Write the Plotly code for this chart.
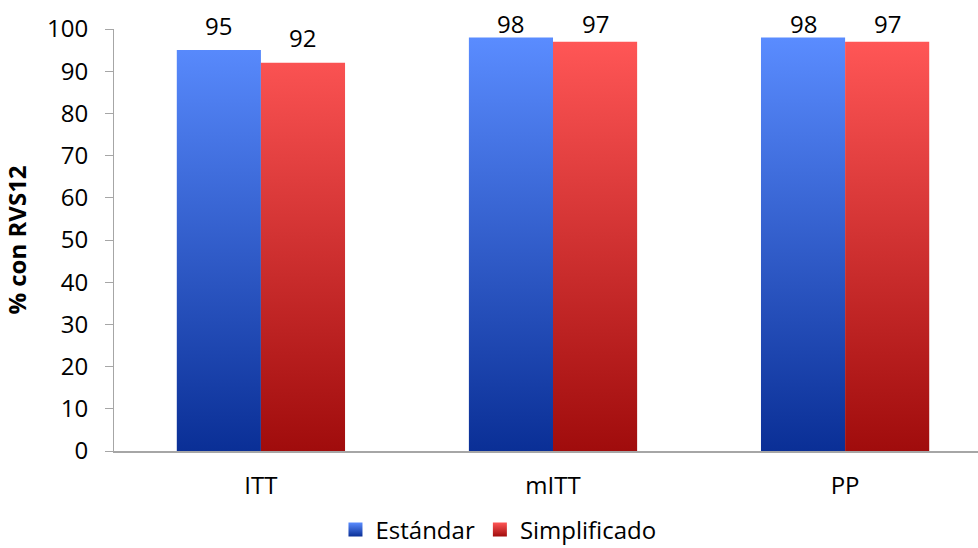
import plotly.graph_objects as go

categories = ["ITT", "mITT", "PP"]
estandar = [95, 98, 98]
simplificado = [92, 97, 97]
series_names = ["Estándar", "Simplificado"]
y_ticks = list(range(0, 101, 10))

W, H = 978, 548
M_L, M_R, M_T, M_B = 114, 0, 29, 97
Y_MAX = 100
PX_PER_UNIT = (H - M_T - M_B) / Y_MAX

BAR_W = 0.288
FS = 24
LABEL_GAP_PX = 25    # label centre above bar top
LABEL_MAX = 101.3    # labels clamped near top of the plot
colors = {
    "Estándar": ("#0a2f96", "#5a8cff"),
    "Simplificado": ("#a00c0c", "#ff5656"),
}

fig = go.Figure()

def bar_polys(values, offset):
    xs, ys = [], []
    for i, v in enumerate(values):
        x0 = i + offset
        x1 = x0 + BAR_W
        xs += [x0, x1, x1, x0, x0, None]
        ys += [0, 0, v, v, 0, None]
    return xs, ys

annotations = []
for name, vals, off in [("Estándar", estandar, -BAR_W), ("Simplificado", simplificado, 0.0)]:
    dark, light = colors[name]
    xs, ys = bar_polys(vals, off)
    fig.add_trace(go.Scatter(
        x=xs, y=ys, mode="lines", fill="toself",
        line=dict(width=0, color=light),
        fillgradient=dict(type="vertical", colorscale=[[0, dark], [1, light]]),
        showlegend=False, hoverinfo="skip",
    ))
    for i, v in enumerate(vals):
        annotations.append(dict(
            x=i + off + BAR_W / 2, y=v, xref="x", yref="y",
            text=str(v), showarrow=False, yanchor="middle",
            yshift=min(LABEL_GAP_PX, (LABEL_MAX - v) * PX_PER_UNIT),
            font=dict(size=FS, color="#000000", family="Open Sans"),
        ))
    fig.add_trace(go.Scatter(
        x=[None], y=[None], mode="markers", name=name,
        marker=dict(symbol="square", size=14, color=light,
                    gradient=dict(type="vertical", color=dark),
                    line=dict(width=0)),
    ))

fig.update_layout(
    width=W, height=H,
    margin=dict(l=M_L, r=M_R, t=M_T, b=M_B),
    paper_bgcolor="white", plot_bgcolor="white",
    font=dict(family="Open Sans", size=FS, color="#000000"),
    annotations=annotations,
    xaxis=dict(
        range=[-0.503, 2.455], tickmode="array",
        tickvals=list(range(len(categories))), ticktext=categories,
        showgrid=False, zeroline=False, showline=True, linecolor="#a6a6a6",
        linewidth=2, ticks="", ticklabelstandoff=12,
        tickfont=dict(size=FS),
    ),
    yaxis=dict(
        range=[0, Y_MAX], tickmode="array", tickvals=y_ticks,
        showgrid=False, zeroline=False, showline=True, linecolor="#a6a6a6",
        linewidth=1, ticks="outside", ticklen=8, tickcolor="#a6a6a6",
        ticklabelstandoff=12, tickfont=dict(size=FS),
        title=dict(text="<b>% con RVS12</b>", font=dict(size=FS), standoff=14),
    ),
    legend=dict(
        orientation="h", x=0.445, xanchor="center",
        yref="container", y=0.033, yanchor="middle",
        font=dict(size=FS), itemwidth=30, traceorder="normal",
    ),
)

fig.write_html("out.html")
